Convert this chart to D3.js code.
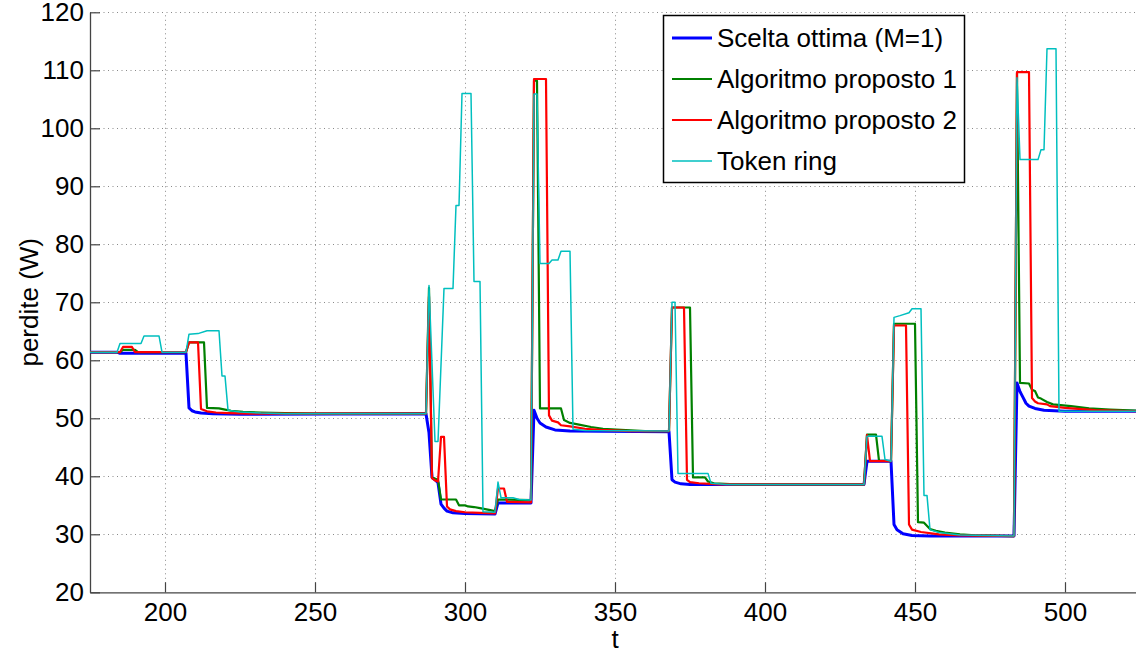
<!DOCTYPE html>
<html>
<head>
<meta charset="utf-8">
<script src="https://cdn.jsdelivr.net/npm/d3@7"></script>
<style>
  html, body { margin: 0; padding: 0; background: #fff; }
  svg { display: block; font-family: "Liberation Sans", Arial, Helvetica, sans-serif; }
</style>
</head>
<body>
<svg id="chart" width="1136" height="654"></svg>
<script>
// Axis ticks
const xTicks = [200, 250, 300, 350, 400, 450, 500];
const yTicks = [20, 30, 40, 50, 60, 70, 80, 90, 100, 110, 120];

// Series names (legend order)
const seriesNames = ["Scelta ottima (M=1)", "Algoritmo proposto 1", "Algoritmo proposto 2", "Token ring"];

// [t, perdite (W)] for each series
const sceltaOttima = [
  [175, 61.4], [184, 61.4], [185, 61.2], [207, 61.2], [208, 51.8], [209, 51.3], [210, 51.1],
  [212, 50.9], [216, 50.8], [225, 50.7], [287, 50.8], [288, 47.5], [289, 39.8], [290, 39.4],
  [291, 38.9], [292, 35.2], [293, 34.5], [294, 34.0], [296, 33.7], [300, 33.6], [310, 33.5],
  [311, 35.4], [322, 35.4], [323, 51.4], [324, 50.0], [325, 49.2], [327, 48.5], [330, 48.0],
  [335, 47.8], [368, 47.7], [369, 39.4], [370, 39.0], [372, 38.7], [375, 38.6], [433, 38.6],
  [434, 42.6], [442, 42.6], [443, 31.7], [444, 30.8], [446, 30.1], [449, 29.8], [455, 29.7],
  [483, 29.7], [484, 56.1], [485, 54.6], [486, 53.6], [487, 52.6], [488, 52.1], [490, 51.7],
  [493, 51.4], [500, 51.2], [525, 51.2]
];

const algoritmo1 = [
  [175, 61.4], [185, 61.4], [186, 61.8], [190, 61.8], [191, 61.4], [207, 61.4], [208, 63.1],
  [213, 63.1], [214, 51.8], [218, 51.7], [220, 51.5], [222, 51.3], [226, 51.1], [232, 51.0],
  [240, 50.9], [250, 50.8], [287, 50.8], [288, 72.5], [289, 39.8], [291, 39.4], [292, 36.0],
  [297, 36.0], [298, 35.0], [300, 35.0], [301, 34.8], [303, 34.7], [305, 34.5], [308, 34.2],
  [310, 34.0], [311, 36.0], [322, 35.9], [323, 108.2], [324, 108.2], [325, 51.7], [332, 51.7],
  [333, 49.7], [335, 49.2], [338, 48.9], [342, 48.5], [346, 48.2], [352, 48.0], [360, 47.8],
  [368, 47.8], [369, 69.1], [375, 69.1], [376, 39.8], [380, 39.8], [381, 39.1], [383, 38.8],
  [390, 38.6], [433, 38.6], [434, 47.2], [437, 47.2], [438, 42.7], [442, 42.6], [443, 66.3],
  [450, 66.3], [451, 32.1], [453, 32.0], [455, 30.9], [457, 30.6], [460, 30.3], [465, 30.0],
  [470, 29.8], [483, 29.7], [484, 109.5], [485, 56.1], [488, 56.0], [489, 54.9], [490, 54.7],
  [491, 53.6], [492, 53.4], [494, 52.8], [496, 52.4], [502, 52.1], [508, 51.7], [515, 51.5],
  [525, 51.3]
];

const algoritmo2 = [
  [175, 61.4], [185, 61.4], [186, 62.3], [189, 62.3], [190, 61.4], [207, 61.4], [208, 63.1],
  [211, 63.1], [212, 51.6], [214, 51.2], [217, 51.0], [221, 50.9], [228, 50.8], [287, 50.8],
  [288, 71.0], [289, 39.7], [290, 39.3], [291, 39.1], [292, 46.8], [293, 46.8], [294, 34.8],
  [295, 34.3], [297, 34.0], [300, 33.8], [305, 33.7], [310, 33.6], [311, 37.9], [313, 37.9],
  [314, 35.6], [322, 35.5], [323, 108.5], [327, 108.5], [328, 50.5], [329, 49.6], [331, 49.3],
  [332, 48.8], [335, 48.6], [340, 48.2], [345, 48.0], [355, 47.8], [368, 47.8], [369, 69.1],
  [373, 69.1], [374, 39.4], [375, 39.0], [378, 38.8], [385, 38.6], [433, 38.6], [434, 47.1],
  [435, 42.6], [442, 42.6], [443, 66.0], [447, 66.0], [448, 31.7], [449, 30.8], [452, 30.4],
  [458, 30.0], [465, 29.8], [483, 29.7], [484, 109.7], [488, 109.7], [489, 53.5], [490, 52.9],
  [491, 52.6], [494, 52.4], [495, 52.1], [500, 51.8], [510, 51.4], [525, 51.2]
];

const tokenRing = [
  [175, 61.4], [184, 61.4], [185, 62.9], [192, 62.9], [193, 64.2], [198, 64.2], [199, 61.4],
  [207, 61.4], [208, 64.5], [211, 64.6], [214, 65.1], [218, 65.1], [219, 57.3], [220, 57.3],
  [221, 51.4], [225, 51.1], [232, 50.9], [240, 50.8], [287, 50.8], [288, 72.9], [290, 46.0],
  [291, 46.0], [293, 72.4], [296, 72.4], [297, 86.7], [298, 86.7], [299, 106.0], [302, 106.0],
  [303, 73.6], [305, 73.6], [306, 33.9], [310, 33.8], [311, 39.0], [312, 36.3], [316, 36.3],
  [318, 36.0], [322, 35.9], [323, 105.9], [324, 105.9], [325, 76.7], [328, 76.7], [329, 77.3],
  [331, 77.3], [332, 78.8], [335, 78.8], [336, 48.1], [340, 47.9], [368, 47.8], [369, 70.0],
  [370, 70.0], [371, 40.5], [381, 40.5], [382, 38.8], [387, 38.6], [433, 38.6], [434, 46.9],
  [439, 46.9], [440, 42.9], [442, 42.6], [443, 67.4], [445, 67.7], [448, 68.2], [449, 68.9],
  [452, 68.9], [453, 36.7], [454, 36.7], [455, 30.8], [458, 30.3], [465, 29.9], [483, 29.7],
  [484, 108.7], [485, 94.6], [491, 94.6], [492, 96.3], [493, 96.3], [494, 113.7], [497, 113.7],
  [498, 51.2], [525, 51.2]
];

const seriesData = [sceltaOttima, algoritmo1, algoritmo2, tokenRing];
const seriesColors = ["#0000ff", "#008000", "#ff0000", "#00bfbf"];
const seriesWidths = [3, 2.2, 2.2, 1.5];

const svg = d3.select("#chart");
const plot = { left: 90, right: 1140, top: 12.3, bottom: 592.3 };

const x = d3.scaleLinear().domain([175, 525]).range([plot.left, plot.right]);
const y = d3.scaleLinear().domain([20, 120]).range([plot.bottom, plot.top]);

svg.append("defs").append("clipPath").attr("id", "plot-clip")
  .append("rect")
  .attr("x", plot.left).attr("y", plot.top - 2)
  .attr("width", plot.right - plot.left).attr("height", plot.bottom - plot.top + 2);

// Dotted grid
const grid = svg.append("g").attr("stroke", "#8a8a8a").attr("stroke-width", 1)
  .attr("stroke-dasharray", "1,3.5");
grid.selectAll("line.gx").data(xTicks).join("line").attr("class", "gx")
  .attr("x1", d => Math.round(x(d)) + 0.5).attr("x2", d => Math.round(x(d)) + 0.5)
  .attr("y1", plot.bottom).attr("y2", plot.top);
grid.selectAll("line.gy").data(yTicks.filter(d => d > 20)).join("line").attr("class", "gy")
  .attr("y1", d => Math.round(y(d)) + 0.5).attr("y2", d => Math.round(y(d)) + 0.5)
  .attr("x1", plot.left).attr("x2", plot.right);

// Axes with inward ticks
const xAxis = svg.append("g").attr("transform", `translate(0,${plot.bottom})`)
  .call(d3.axisBottom(x).tickValues(xTicks).tickSizeInner(-10).tickSizeOuter(0).tickPadding(10));
const yAxis = svg.append("g").attr("transform", `translate(${plot.left},0)`)
  .call(d3.axisLeft(y).tickValues(yTicks).tickSizeInner(-10).tickSizeOuter(0).tickPadding(6));

[xAxis, yAxis].forEach(g => {
  g.attr("font-family", null).attr("font-size", null);
  g.select(".domain").attr("stroke", "#444").attr("stroke-width", 1.3);
  g.selectAll(".tick line").attr("stroke", "#444").attr("stroke-width", 1.2);
  g.selectAll(".tick text").attr("fill", "#000").style("font-size", "26px");
});

// Series lines
const line = d3.line().x(d => x(d[0])).y(d => y(d[1]));
const lines = svg.append("g").attr("clip-path", "url(#plot-clip)");
seriesData.forEach((data, i) => {
  lines.append("path")
    .datum(data)
    .attr("fill", "none")
    .attr("stroke", seriesColors[i])
    .attr("stroke-width", seriesWidths[i])
    .attr("stroke-linejoin", "round")
    .attr("d", line);
});

// Axis titles
svg.append("text")
  .attr("x", x(350)).attr("y", 648)
  .attr("text-anchor", "middle")
  .style("font-size", "26px")
  .text("t");

svg.append("text")
  .attr("transform", `translate(38,${(plot.top + plot.bottom) / 2}) rotate(-90)`)
  .attr("text-anchor", "middle")
  .style("font-size", "26px")
  .text("perdite (W)");

// Legend
const legend = svg.append("g");
legend.append("rect")
  .attr("x", 663.5).attr("y", 15.5).attr("width", 301).attr("height", 167)
  .attr("fill", "#fff").attr("stroke", "#000").attr("stroke-width", 1.5);
const rowY = [38, 79, 120, 161];
seriesNames.forEach((name, i) => {
  legend.append("line")
    .attr("x1", 672).attr("x2", 712)
    .attr("y1", rowY[i]).attr("y2", rowY[i])
    .attr("stroke", seriesColors[i]).attr("stroke-width", seriesWidths[i]);
  legend.append("text")
    .attr("x", 717).attr("y", rowY[i])
    .attr("dy", "0.35em")
    .style("font-size", "26px")
    .text(name);
});
</script>
</body>
</html>
